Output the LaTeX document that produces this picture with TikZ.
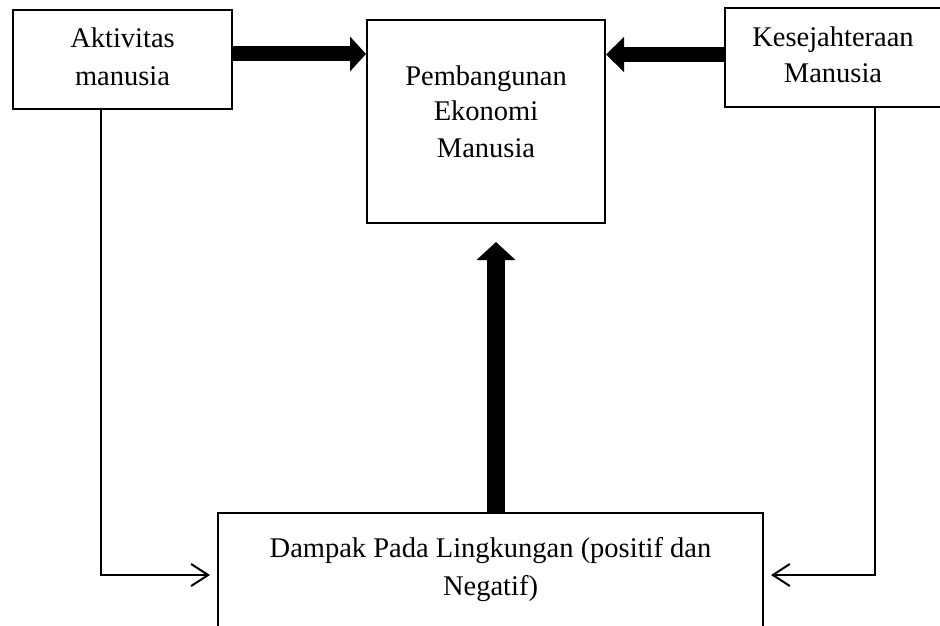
\documentclass[tikz,border=0pt]{standalone}
\usepackage{fontspec}
\setmainfont{Liberation Serif}
\usetikzlibrary{arrows.meta,calc}
\begin{document}
\begin{tikzpicture}[x=1pt,y=-1pt,
  box/.style={draw, line width=2pt, inner sep=0pt},
  txt/.style={anchor=base, inner sep=0pt, font=\fontsize{28.5}{37}\selectfont},
  fat/.style={line width=15pt},
  link/.style={line width=1.3pt, -{Straight Barb[length=17pt,width=22pt,line width=2pt]}}]
\useasboundingbox (0,0) rectangle (940,626);
\clip (0,0) rectangle (940,626);
\fill[white] (0,0) rectangle (940,626);
% boxes
\node[box, minimum width=219pt, minimum height=99pt] (b1) at (122.5,59.5) {};
\node[box, minimum width=238pt, minimum height=203pt] (b2) at (486,121.5) {};
\node[box, minimum width=220pt, minimum height=99pt] (b3) at (835,57.5) {};
\node[box, minimum width=545pt, minimum height=127pt] (b4) at (490.5,576.5) {};
% texts
\node[txt] (t1a) at (122.5,48) {Aktivitas};
\node[txt] (t1b) at (122.5,85) {manusia};
\node[txt] (t2a) at (486,85) {Pembangunan};
\node[txt] (t2b) at (486,121) {Ekonomi};
\node[txt] (t2c) at (486,157) {Manusia};
\node[txt] (t3a) at (833,47) {Kesejahteraan};
\node[txt] (t3b) at (833,82) {Manusia};
\node[txt] (t4a) at (490.5,557) {Dampak Pada Lingkungan (positif dan};
\node[txt] (t4b) at (490.5,595) {Negatif)};
% thick arrows
\coordinate (ya) at (0,54);
\coordinate (yb) at (0,54.5);
\coordinate (ct) at (496,242);
\draw[fat, -{Triangle[length=16pt,width=34pt]}] (b1.east |- ya) -- (b2.west |- ya);
\draw[fat, -{Triangle[length=18pt,width=34pt]}] (b3.west |- yb) -- (b2.east |- yb);
\draw[line width=18pt, -{Triangle[length=18pt,width=38pt]}] (b4.north -| ct) -- (ct);
% thin connectors
\coordinate (la) at (101,575);
\coordinate (lt) at (210,575);
\coordinate (ra) at (875,575);
\coordinate (rt) at (771,575);
\draw[link] (b1.south -| la) |- (lt);
\draw[link] (b3.south -| ra) |- (rt);
\end{tikzpicture}
\end{document}
